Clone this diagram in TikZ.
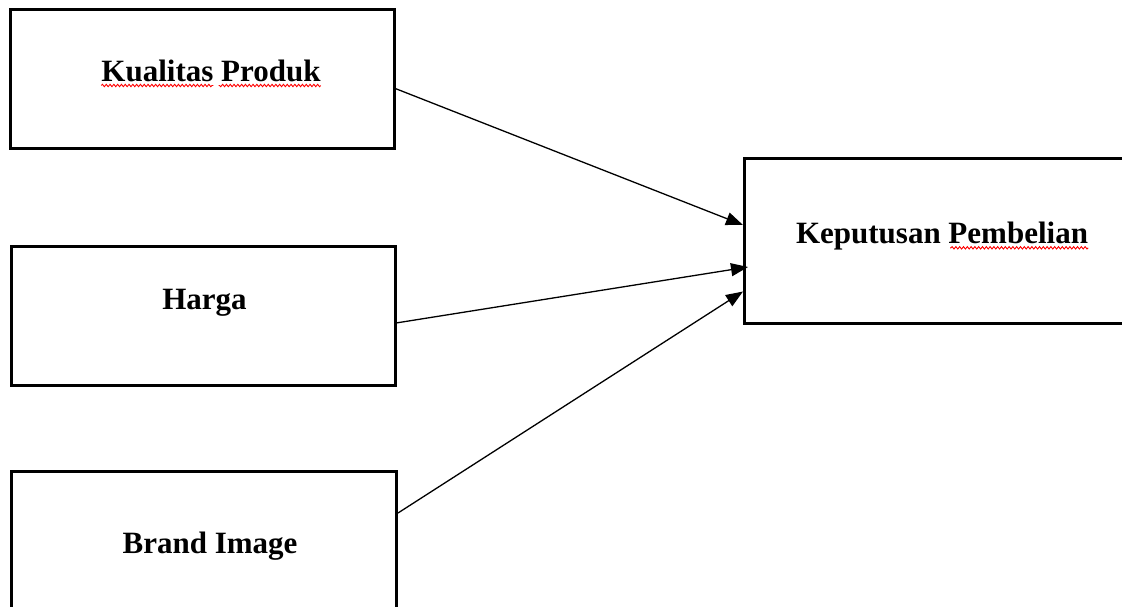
\documentclass[tikz,border=0pt]{standalone}
\usepackage{fontspec}
\setmainfont{Liberation Serif}
\usetikzlibrary{calc, arrows.meta, decorations.pathmorphing}

\begin{document}
\begin{tikzpicture}[x=1pt, y=-1pt,
    box/.style={draw, line width=3pt, outer sep=0pt, inner sep=0pt,
        minimum width=384pt, minimum height=139pt},
    lbl/.style={anchor=base, inner sep=0pt, font=\fontsize{31}{37}\selectfont\bfseries},
    link/.style={line width=1.3pt, -{Triangle[length=17pt,width=13pt]}},
    squiggle/.style={red, line width=0.9pt, decorate,
        decoration={snake, amplitude=1.2pt, segment length=3.8pt}}]
    \useasboundingbox (0,0) rectangle (1122,607);
    \clip (0,0) rectangle (1122,607);

    \coordinate (P) at (202,79.5);
    \coordinate (H) at (203,315.5);
    \coordinate (B) at (203.5,540.5);
    \coordinate (K) at (942,241);

    \node[box] (kualitas) at (P) {};
    \node[box] (harga) at (H) {};
    \node[box, minimum width=385pt] (brand) at (B) {};
    \node[box, minimum width=396pt, minimum height=164pt] (keputusan) at (K) {};

    \node[lbl] (kualitas-lbl) at (211,82) {Kualitas Produk};
    \node[lbl] (harga-lbl) at (204.5,309) {Harga};
    \node[lbl] (brand-lbl) at (210,553) {Brand Image};
    \node[lbl] (keputusan-lbl) at (942,243.3) {Keputusan Pembelian};

    % spell-check marks
    \draw[squiggle] ($(kualitas-lbl.base west)+(0,3.5)$) -- ++(112,0);
    \draw[squiggle] ($(kualitas-lbl.base east)+(0,3.5)$) -- ++(-102,0);
    \draw[squiggle] ($(keputusan-lbl.base east)+(0,4.5)$) -- ++(-138,0);

    \draw[link] ($(kualitas.east)+(0,8.5)$) -- ($(keputusan.west)+(-1,-16)$);
    \draw[link] ($(harga.east)+(1,7.5)$) -- ($(keputusan.west)+(4,26)$);
    \draw[link] ($(brand.east)+(2,-27.5)$) -- ($(keputusan.west)+(-1,50.5)$);
\end{tikzpicture}
\end{document}
